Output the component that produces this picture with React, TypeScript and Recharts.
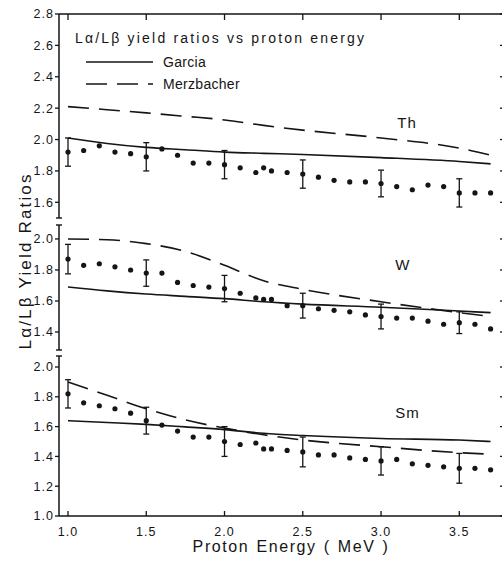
import React from 'react';
import {
  ComposedChart,
  Line,
  Scatter,
  ErrorBar,
  XAxis,
  YAxis,
  ReferenceDot,
  Legend,
  Label,
} from 'recharts';

const FONT = '"Liberation Sans", Arial, sans-serif';
const INK = '#151515';

// Proton energies (MeV) at which yield ratios were measured
const energies = [
  1.0, 1.1, 1.2, 1.3, 1.4, 1.5, 1.6, 1.7, 1.8, 1.9, 2.0, 2.1, 2.2, 2.25, 2.3,
  2.4, 2.5, 2.6, 2.7, 2.8, 2.9, 3.0, 3.1, 3.2, 3.3, 3.4, 3.5, 3.6, 3.7,
];

// Measured Lα/Lβ yield ratios
const thRatios = [
  1.92, 1.93, 1.96, 1.92, 1.91, 1.89, 1.94, 1.9, 1.85, 1.85, 1.84, 1.82, 1.79,
  1.82, 1.8, 1.79, 1.78, 1.76, 1.74, 1.73, 1.73, 1.72, 1.7, 1.68, 1.71, 1.7,
  1.66, 1.66, 1.66,
];
const wRatios = [
  1.87, 1.83, 1.84, 1.82, 1.8, 1.78, 1.78, 1.72, 1.7, 1.69, 1.68, 1.65, 1.62,
  1.61, 1.61, 1.57, 1.57, 1.55, 1.54, 1.53, 1.51, 1.5, 1.49, 1.49, 1.47, 1.45,
  1.46, 1.45, 1.42,
];
const smRatios = [
  1.82, 1.76, 1.74, 1.72, 1.69, 1.64, 1.61, 1.57, 1.53, 1.53, 1.5, 1.48, 1.49,
  1.45, 1.45, 1.44, 1.43, 1.41, 1.41, 1.39, 1.38, 1.37, 1.38, 1.35, 1.34, 1.33,
  1.32, 1.32, 1.31,
];

// Representative uncertainties
const errorEnergies = [1.0, 1.5, 2.0, 2.5, 3.0, 3.5];
const thErrors = [0.09, 0.09, 0.09, 0.09, 0.085, 0.09];
const wErrors = [0.095, 0.085, 0.085, 0.08, 0.08, 0.07];
const smErrors = [0.095, 0.09, 0.1, 0.1, 0.095, 0.1];

// Theoretical curves
const curveEnergies = [1.0, 1.25, 1.5, 1.75, 2.0, 2.25, 2.5, 3.0, 3.5, 3.7];
const thGarcia = [2.01, 1.975, 1.95, 1.935, 1.92, 1.912, 1.905, 1.885, 1.86, 1.845];
const thMerzbacher = [2.21, 2.19, 2.17, 2.148, 2.125, 2.09, 2.06, 2.01, 1.945, 1.9];
const wGarcia = [1.69, 1.665, 1.645, 1.63, 1.615, 1.595, 1.58, 1.56, 1.535, 1.525];
const wMerzbacher = [2.0, 1.995, 1.97, 1.92, 1.83, 1.73, 1.675, 1.595, 1.525, 1.5];
const smGarcia = [1.64, 1.628, 1.615, 1.598, 1.58, 1.555, 1.54, 1.52, 1.51, 1.5];
const smMerzbacher = [1.9, 1.81, 1.72, 1.645, 1.59, 1.545, 1.51, 1.465, 1.425, 1.415];

// Axis ticks
const energyTicks = [1.0, 1.5, 2.0, 2.5, 3.0, 3.5];
const thTicks = [1.6, 1.8, 2.0, 2.2, 2.4, 2.6, 2.8];
const wTicks = [1.4, 1.6, 1.8, 2.0];
const smTicks = [1.0, 1.2, 1.4, 1.6, 1.8, 2.0];

const ENERGY_DOMAIN: [number, number] = [0.9425, 3.792];
const CHART_W = 510;
const LEFT_AXIS_W = 59;
const RIGHT_MARGIN = 5;
const PLOT_W = CHART_W - LEFT_AXIS_W - RIGHT_MARGIN;

// Frame pieces are anchored on the outermost energy ticks and reach the plot edges
const X_PX = PLOT_W / (ENERGY_DOMAIN[1] - ENERGY_DOMAIN[0]);
const LEFT_ANCHOR = energyTicks[0];
const RIGHT_ANCHOR = energyTicks[energyTicks.length - 1];
const TO_LEFT_EDGE = (LEFT_ANCHOR - ENERGY_DOMAIN[0]) * X_PX;
const TO_RIGHT_EDGE = (ENERGY_DOMAIN[1] - RIGHT_ANCHOR) * X_PX;

const fmt = (v: number) => v.toFixed(1);

const renderDot = (p: any) => <circle cx={p.cx} cy={p.cy} r={2.6} fill={INK} />;
const renderNone = () => <g />;

const axisLineStyle = { stroke: INK, strokeWidth: 1.5 };
const tickLineStyle = { stroke: INK, strokeWidth: 1.3 };

const frameTopShape = (p: any) => (
  <rect x={p.cx - TO_LEFT_EDGE} y={p.cy - 0.75} width={PLOT_W} height={1.5} fill={INK} />
);
const topTickShape = (p: any) => (
  <rect x={p.cx - 0.65} y={p.cy} width={1.3} height={6} fill={INK} />
);
const bottomTickShape = (p: any) => (
  <rect x={p.cx - 0.65} y={p.cy - 5} width={1.3} height={5} fill={INK} />
);
const rightTickShape = (p: any) => (
  <rect x={p.cx + TO_RIGHT_EDGE - 5} y={p.cy - 0.65} width={5} height={1.3} fill={INK} />
);
const breakShape = (p: any) => (
  <rect x={p.cx - TO_LEFT_EDGE - 3} y={p.cy - 0.7} width={6} height={1.4} fill={INK} />
);

function LegendBox(props: any) {
  const items = ((props.payload || []) as any[]).filter(
    (it) => it.type !== 'none' && it.value,
  );
  return (
    <svg width={420} height={100} style={{ display: 'block' }}>
      <text
        x={75}
        y={43}
        fontFamily={FONT}
        fontSize={14}
        fill={INK}
        textLength={289}
        lengthAdjust="spacing"
      >
        Lα/Lβ yield ratios vs proton energy
      </text>
      {items.map((it, i) => {
        const y = 62 + i * 22;
        return (
          <g key={String(it.value)}>
            <line
              x1={86}
              x2={153}
              y1={y}
              y2={y}
              stroke={INK}
              strokeWidth={1.6}
              strokeDasharray={it.payload?.strokeDasharray}
            />
            <text x={163} y={y + 5} fontFamily={FONT} fontSize={14} fill={INK} style={{ letterSpacing: '0.3px' }}>
              {it.value}
            </text>
          </g>
        );
      })}
    </svg>
  );
}

type PanelProps = {
  top: number;
  height: number;
  marginTop: number;
  marginBottom: number;
  yDomain: [number, number];
  yTicks: number[];
  ratios: number[];
  errors: number[];
  garcia: number[];
  merzbacher: number[];
  element: string;
  elementAt: [number, number];
  frameTop: boolean;
  breakTop: boolean;
  breakBottom: boolean;
  energyAxis: boolean;
  legend?: boolean;
};

function Panel(p: PanelProps) {
  const [yMin, yMax] = p.yDomain;
  const dots = energies.map((x, i) => ({ x, y: p.ratios[i] }));
  const errPts = errorEnergies.map((x, i) => ({
    x,
    y: p.ratios[energies.indexOf(x)],
    err: p.errors[i],
  }));
  const garciaData = curveEnergies.map((x, i) => ({ x, y: p.garcia[i] }));
  const merzData = curveEnergies.map((x, i) => ({ x, y: p.merzbacher[i] }));

  const frameData = [{ x: LEFT_ANCHOR, y: yMax }];
  const topTicks = energyTicks.map((x) => ({ x, y: yMax }));
  const bottomTicks = energyTicks.map((x) => ({ x, y: yMin }));
  const rightTicks = p.yTicks.map((y) => ({ x: RIGHT_ANCHOR, y }));
  const breakTopData = [{ x: LEFT_ANCHOR, y: yMax }];
  const breakBottomData = [{ x: LEFT_ANCHOR, y: yMin }];

  return (
    <div style={{ position: 'absolute', left: 0, top: p.top }}>
      <ComposedChart
        width={CHART_W}
        height={p.height}
        margin={{ top: p.marginTop, right: RIGHT_MARGIN, bottom: p.marginBottom, left: 0 }}
      >
        {p.energyAxis ? (
          <XAxis
            type="number"
            dataKey="x"
            domain={ENERGY_DOMAIN}
            ticks={energyTicks}
            interval={0}
            orientation="bottom"
            height={47}
            tickLine={false}
            tickSize={0}
            tickMargin={11}
            tickFormatter={fmt}
            tick={{ fill: INK, fontSize: 12.5, fontFamily: FONT, style: { letterSpacing: '1px' } }}
            axisLine={axisLineStyle}
          >
            <Label
              value="Proton Energy ( MeV )"
              position="insideBottom"
              offset={11}
              dx={9}
              fill={INK}
              fontSize={16}
              fontFamily={FONT}
              style={{ letterSpacing: '1.6px', wordSpacing: '1px' }}
            />
          </XAxis>
        ) : (
          <XAxis type="number" dataKey="x" domain={ENERGY_DOMAIN} hide />
        )}
        <YAxis
          type="number"
          domain={p.yDomain}
          ticks={p.yTicks}
          interval={0}
          width={LEFT_AXIS_W}
          tickSize={4}
          tickMargin={1}
          tickFormatter={fmt}
          tick={{ fill: INK, fontSize: 12.5, fontFamily: FONT, style: { letterSpacing: '1px' } }}
          axisLine={axisLineStyle}
          tickLine={tickLineStyle}
        />
        <Scatter
          data={frameData}
          dataKey="y"
          shape={p.frameTop ? frameTopShape : renderNone}
          legendType="none"
          isAnimationActive={false}
        />
        <Scatter
          data={topTicks}
          dataKey="y"
          shape={p.frameTop ? topTickShape : renderNone}
          legendType="none"
          isAnimationActive={false}
        />
        <Scatter
          data={bottomTicks}
          dataKey="y"
          shape={p.energyAxis ? bottomTickShape : renderNone}
          legendType="none"
          isAnimationActive={false}
        />
        <Scatter data={rightTicks} dataKey="y" shape={rightTickShape} legendType="none" isAnimationActive={false} />
        <Scatter
          data={breakTopData}
          dataKey="y"
          shape={p.breakTop ? breakShape : renderNone}
          legendType="none"
          isAnimationActive={false}
        />
        <Scatter
          data={breakBottomData}
          dataKey="y"
          shape={p.breakBottom ? breakShape : renderNone}
          legendType="none"
          isAnimationActive={false}
        />
        <Line
          data={garciaData}
          dataKey="y"
          name="Garcia"
          type="monotone"
          stroke={INK}
          strokeWidth={1.6}
          dot={false}
          isAnimationActive={false}
        />
        <Line
          data={merzData}
          dataKey="y"
          name="Merzbacher"
          type="monotone"
          stroke={INK}
          strokeWidth={1.6}
          strokeDasharray="21 10"
          dot={false}
          isAnimationActive={false}
        />
        <Scatter data={dots} dataKey="y" shape={renderDot} legendType="none" isAnimationActive={false} />
        <Scatter data={errPts} dataKey="y" shape={renderNone} legendType="none" isAnimationActive={false}>
          <ErrorBar dataKey="err" direction="y" width={3} stroke={INK} strokeWidth={1.3} isAnimationActive={false} />
        </Scatter>
        <ReferenceDot
          x={p.elementAt[0]}
          y={p.elementAt[1]}
          r={0}
          ifOverflow="visible"
          label={{
            value: p.element,
            position: 'center',
            fill: INK,
            fontSize: 15,
            fontFamily: FONT,
            style: { letterSpacing: '1px' },
          }}
        />
        {p.legend && (
          <Legend
            layout="vertical"
            align="center"
            verticalAlign="middle"
            wrapperStyle={{ left: 0, top: 0, width: 420, height: 100 }}
            content={LegendBox}
          />
        )}
      </ComposedChart>
    </div>
  );
}

export default function App() {
  return (
    <div
      style={{
        position: 'absolute',
        left: 0,
        top: 0,
        width: 502,
        height: 563,
        overflow: 'hidden',
        background: '#fff',
      }}
    >
      <Panel
        top={0}
        height={222}
        marginTop={14}
        marginBottom={4}
        yDomain={[1.5, 2.8]}
        yTicks={thTicks}
        ratios={thRatios}
        errors={thErrors}
        garcia={thGarcia}
        merzbacher={thMerzbacher}
        element="Th"
        elementAt={[3.166, 2.105]}
        frameTop
        breakTop={false}
        breakBottom
        energyAxis={false}
        legend
      />
      <Panel
        top={221}
        height={133}
        marginTop={4}
        marginBottom={4}
        yDomain={[1.284, 2.09]}
        yTicks={wTicks}
        ratios={wRatios}
        errors={wErrors}
        garcia={wGarcia}
        merzbacher={wMerzbacher}
        element="W"
        elementAt={[3.14, 1.832]}
        frameTop={false}
        breakTop
        breakBottom
        energyAxis={false}
      />
      <Panel
        top={352}
        height={211}
        marginTop={4}
        marginBottom={0}
        yDomain={[1.0, 2.074]}
        yTicks={smTicks}
        ratios={smRatios}
        errors={smErrors}
        garcia={smGarcia}
        merzbacher={smMerzbacher}
        element="Sm"
        elementAt={[3.169, 1.691]}
        frameTop={false}
        breakTop
        breakBottom={false}
        energyAxis
      />
      <svg
        width={50}
        height={563}
        style={{ position: 'absolute', left: 0, top: 0, overflow: 'visible' }}
      >
        <text
          x={-262}
          y={31}
          transform="rotate(-90)"
          textAnchor="middle"
          fontFamily={FONT}
          fontSize={17}
          fill={INK}
          textLength={175}
          lengthAdjust="spacing"
        >
          Lα/Lβ Yield Ratios
        </text>
      </svg>
    </div>
  );
}
